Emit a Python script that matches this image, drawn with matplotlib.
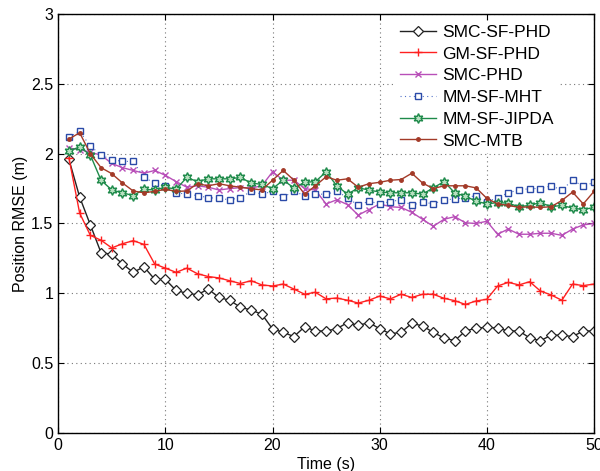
import numpy as np
import matplotlib
matplotlib.use("Agg")
import matplotlib.pyplot as plt

plt.rcParams['font.family'] = ['Liberation Sans', 'DejaVu Sans']

t = np.arange(1, 51)

smc_sf_phd = [1.96, 1.69, 1.49, 1.29, 1.28, 1.21, 1.15, 1.19, 1.10, 1.10,
              1.02, 1.00, 0.99, 1.03, 0.97, 0.95, 0.90, 0.88, 0.85, 0.745,
              0.72, 0.69, 0.76, 0.73, 0.73, 0.746, 0.79, 0.77, 0.79, 0.746,
              0.71, 0.72, 0.785, 0.766, 0.72, 0.68, 0.66, 0.73, 0.75, 0.756,
              0.75, 0.73, 0.73, 0.68, 0.66, 0.70, 0.70, 0.69, 0.73, 0.73]

gm_sf_phd = [1.97, 1.575, 1.415, 1.38, 1.325, 1.355, 1.377, 1.35, 1.21, 1.18,
             1.15, 1.18, 1.14, 1.12, 1.11, 1.09, 1.07, 1.09, 1.06, 1.052,
             1.066, 1.03, 0.993, 1.007, 0.96, 0.966, 0.95, 0.93, 0.95, 0.98,
             0.96, 0.993, 0.97, 0.993, 0.993, 0.964, 0.947, 0.92, 0.945, 0.957,
             1.052, 1.078, 1.06, 1.083, 1.016, 0.988, 0.95, 1.066, 1.055, 1.066]

smc_phd = [2.04, 2.03, 2.01, 1.99, 1.93, 1.90, 1.88, 1.86, 1.88, 1.845,
           1.80, 1.76, 1.77, 1.76, 1.74, 1.75, 1.757, 1.754, 1.77, 1.87,
           1.81, 1.81, 1.75, 1.74, 1.64, 1.67, 1.635, 1.56, 1.60, 1.64,
           1.62, 1.615, 1.58, 1.53, 1.48, 1.53, 1.549, 1.505, 1.50, 1.516,
           1.423, 1.46, 1.423, 1.423, 1.43, 1.43, 1.415, 1.46, 1.49, 1.50]

mm_sf_mht = [2.12, 2.16, 2.055, 1.99, 1.957, 1.945, 1.945, 1.83, 1.79, 1.77,
             1.72, 1.71, 1.70, 1.685, 1.68, 1.67, 1.685, 1.73, 1.71, 1.73,
             1.69, 1.73, 1.70, 1.71, 1.71, 1.73, 1.685, 1.63, 1.66, 1.64,
             1.657, 1.67, 1.63, 1.655, 1.64, 1.67, 1.675, 1.685, 1.70, 1.655,
             1.685, 1.72, 1.74, 1.75, 1.75, 1.77, 1.74, 1.81, 1.766, 1.795]

mm_sf_jipda = [2.017, 2.05, 1.99, 1.81, 1.74, 1.72, 1.70, 1.745, 1.74, 1.76,
               1.745, 1.83, 1.80, 1.82, 1.82, 1.82, 1.83, 1.79, 1.78, 1.75,
               1.81, 1.755, 1.795, 1.80, 1.87, 1.77, 1.71, 1.755, 1.74, 1.725,
               1.72, 1.72, 1.72, 1.71, 1.755, 1.80, 1.72, 1.695, 1.66, 1.64,
               1.65, 1.645, 1.62, 1.63, 1.65, 1.62, 1.63, 1.61, 1.60, 1.615]

smc_mtb = [2.105, 2.15, 2.0, 1.90, 1.857, 1.79, 1.733, 1.72, 1.73, 1.745,
           1.73, 1.733, 1.785, 1.77, 1.785, 1.77, 1.76, 1.75, 1.74, 1.81,
           1.88, 1.81, 1.71, 1.77, 1.835, 1.81, 1.82, 1.76, 1.785, 1.795,
           1.81, 1.815, 1.86, 1.79, 1.75, 1.77, 1.77, 1.77, 1.755, 1.68,
           1.64, 1.63, 1.615, 1.62, 1.615, 1.62, 1.665, 1.725, 1.64, 1.73]

fig = plt.figure(figsize=(6.0, 4.71), dpi=100)
ax = fig.add_axes([0.097, 0.081, 0.893, 0.889])

ax.plot(t, smc_sf_phd, color='#222222', lw=1.0, marker='D', ms=5,
        mfc='white', mec='#222222', mew=0.9, label='SMC-SF-PHD')
ax.plot(t, gm_sf_phd, color='#ff2020', lw=1.0, marker='+', ms=6,
        mew=1.0, label='GM-SF-PHD')
ax.plot(t, smc_phd, color='#b84fb8', lw=1.0, marker='x', ms=5,
        mew=1.0, label='SMC-PHD')
ax.plot(t, mm_sf_mht, color='#5070c8', lw=0.8, ls=(0, (1, 3)), marker='s', ms=5,
        mfc='white', mec='#2a4aa8', mew=1.0, label='MM-SF-MHT')
ax.plot(t, mm_sf_jipda, color='#1e8a4a', lw=1.0, marker=(6, 1, 0), ms=7,
        mfc='#b8e0c0', mec='#1e8a4a', mew=1.0, label='MM-SF-JIPDA')
ax.plot(t, smc_mtb, color='#a33a28', lw=1.0, marker='.', ms=5,
        label='SMC-MTB')

ax.set_xlim(0, 50)
ax.set_ylim(0, 3)
ax.set_xticks(np.arange(0, 51, 10))
ax.set_yticks(np.arange(0, 3.01, 0.5))
ax.set_yticklabels(['0', '0.5', '1', '1.5', '2', '2.5', '3'])
ax.grid(True, ls=(0, (1, 3)), color='#777777', lw=0.8)
ax.tick_params(direction='in', top=True, right=True, labelsize=11.5, length=4)
for s in ax.spines.values():
    s.set_linewidth(1.0)

ax.set_xlabel('Time (s)', fontsize=11.5, labelpad=3)
ax.set_ylabel('Position RMSE (m)', fontsize=11.5, labelpad=2)

leg = ax.legend(loc='upper right', bbox_to_anchor=(0.948, 1.004), fontsize=12.5,
                frameon=True, fancybox=False, handlelength=2.1,
                handletextpad=0.35, labelspacing=0.38, borderpad=0.2)
leg.get_frame().set_edgecolor('white')
leg.get_frame().set_alpha(1.0)

fig.savefig('out.png', dpi=100)
